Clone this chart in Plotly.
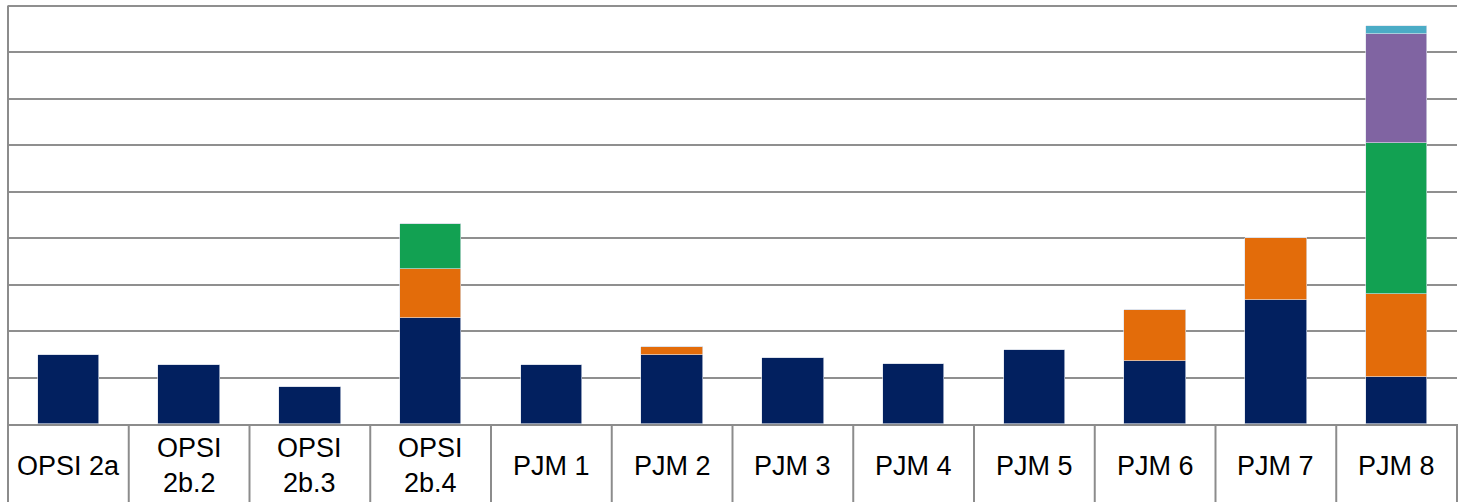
import plotly.graph_objects as go

categories = ["OPSI 2a", "OPSI<br>2b.2", "OPSI<br>2b.3", "OPSI<br>2b.4", "PJM 1", "PJM 2",
              "PJM 3", "PJM 4", "PJM 5", "PJM 6", "PJM 7", "PJM 8"]
series_navy = [1.49, 1.26, 0.79, 2.27, 1.26, 1.48, 1.43, 1.28, 1.60, 1.35, 2.66, 1.01]
series_orange = [0, 0, 0, 1.06, 0, 0.17, 0, 0, 0, 1.11, 1.33, 1.79]
series_green = [0, 0, 0, 0.98, 0, 0, 0, 0, 0, 0, 0, 3.25]
series_purple = [0, 0, 0, 0, 0, 0, 0, 0, 0, 0, 0, 2.34]
series_teal = [0, 0, 0, 0, 0, 0, 0, 0, 0, 0, 0, 0.16]

colors = ["#02205F", "#E36C0A", "#12A152", "#8064A2", "#4BACC6"]
all_series = [series_navy, series_orange, series_green, series_purple, series_teal]

W, H = 1463, 502
ML, MR, MT, MB = 8, 6, 3, 78
plot_h = H - MT - MB
px_per_unit = 46.5
y_top = plot_h / px_per_unit
grid_max = 9

fig = go.Figure()
x_idx = list(range(len(categories)))
for vals, col in zip(all_series, colors):
    fig.add_trace(go.Bar(x=x_idx, y=vals, marker=dict(color=col, line=dict(color="rgba(220,225,235,0.8)", width=0.8)),
                         width=0.51, showlegend=False, hoverinfo="skip"))

n = len(categories)
below = MB / plot_h
shapes = []
for i in range(n + 1):
    xp = i / n
    shapes.append(dict(type="line", xref="paper", yref="paper", x0=xp, x1=xp, y0=0, y1=-below,
                       line=dict(color="#8c8c8c", width=2)))
shapes.append(dict(type="line", xref="paper", yref="paper", x0=0, x1=0, y0=0, y1=grid_max / y_top,
                   line=dict(color="#8c8c8c", width=2)))

annotations = []
for i, c in enumerate(categories):
    annotations.append(dict(x=(i + 0.5) / n, xref="paper", y=-(466 - (H - MB)) / plot_h, yref="paper",
                            text=c, showarrow=False, yanchor="middle", xanchor="center",
                            font=dict(family="Liberation Sans, Arial", size=27, color="#000000")))

fig.update_layout(
    barmode="stack",
    width=W, height=H,
    margin=dict(l=ML, r=MR, t=MT, b=MB),
    plot_bgcolor="white", paper_bgcolor="white",
    xaxis=dict(range=[-0.5, n - 0.5], showticklabels=False, showgrid=False, zeroline=False,
               showline=True, linecolor="#8c8c8c", linewidth=2, fixedrange=True),
    yaxis=dict(range=[0, y_top], tick0=0, dtick=1, showticklabels=False, showgrid=True,
               gridcolor="#8f8f8f", gridwidth=2, zeroline=False, showline=False, fixedrange=True),
    shapes=shapes,
    annotations=annotations,
    bargap=0,
)

fig.write_html("out.html")
